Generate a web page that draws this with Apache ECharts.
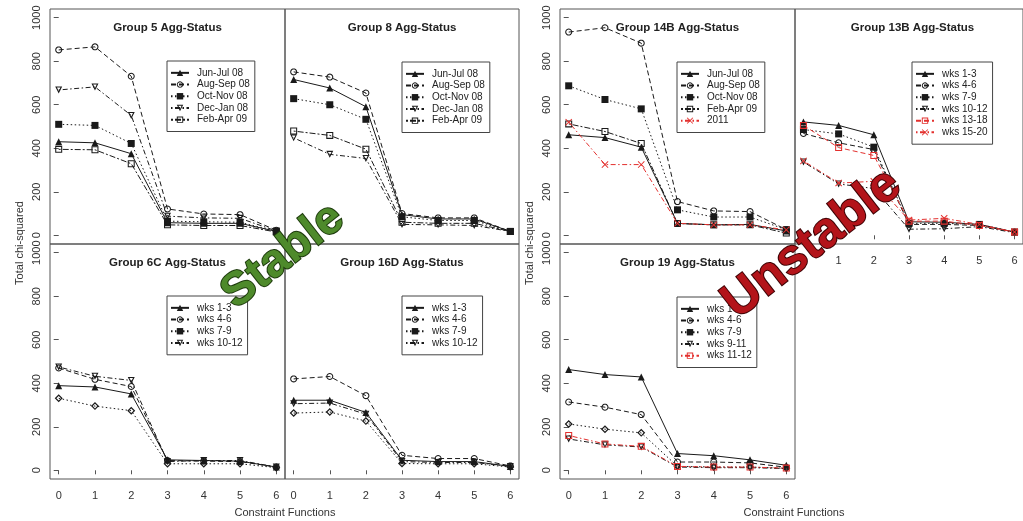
<!DOCTYPE html>
<html><head><meta charset="utf-8">
<script src="https://cdn.jsdelivr.net/npm/echarts@6/dist/echarts.min.js"></script>
<style>html,body{margin:0;padding:0;background:#fff}#c{width:1023px;height:521px}</style>
</head><body><div id="c"></div>
<script>
// ---------- data ----------
const constraintFns = [0, 1, 2, 3, 4, 5, 6];
const xTickLabels = [0, 1, 2, 3, 4, 5, 6];
const yTickLabels = [0, 200, 400, 600, 800, 1000];

// Group 5
const g5_junjul = [430, 425, 375, 58, 55, 55, 18];
const g5_augsep = [852, 866, 731, 121, 98, 95, 23];
const g5_octnov = [510, 505, 422, 65, 62, 60, 18];
const g5_decjan = [668, 682, 551, 88, 80, 78, 20];
const g5_febapr = [395, 393, 329, 48, 45, 45, 15];
// Group 8
const g8_junjul = [716, 677, 591, 95, 75, 75, 18];
const g8_augsep = [751, 727, 654, 100, 80, 80, 18];
const g8_octnov = [628, 600, 533, 85, 68, 68, 18];
const g8_decjan = [448, 372, 353, 50, 48, 45, 18];
const g8_febapr = [479, 459, 396, 60, 55, 55, 18];
// Group 6C
const g6_w13 = [389, 383, 351, 48, 45, 42, 15];
const g6_w46 = [470, 418, 385, 45, 42, 40, 15];
const g6_w79 = [331, 295, 274, 30, 30, 30, 12];
const g6_w1012 = [475, 432, 413, 40, 45, 45, 15];
// Group 16D
const g16_w13 = [322, 322, 266, 46, 40, 40, 18];
const g16_w46 = [420, 431, 343, 69, 54, 54, 20];
const g16_w79 = [263, 268, 226, 31, 30, 30, 15];
const g16_w1012 = [306, 309, 258, 40, 36, 36, 18];
// Group 14B
const g14_junjul = [462, 449, 405, 55, 48, 50, 20];
const g14_augsep = [934, 954, 883, 155, 112, 109, 26];
const g14_octnov = [687, 624, 581, 117, 84, 84, 26];
const g14_febapr = [512, 477, 422, 54, 48, 48, 10];
const g14_2011 = [520, 325, 325, 55, 48, 48, 25];
// Group 13B
const g13_w13 = [521, 505, 462, 62, 60, 50, 15];
const g13_w46 = [468, 425, 394, 50, 50, 45, 15];
const g13_w79 = [486, 466, 405, 55, 55, 50, 15];
const g13_w1012 = [337, 236, 215, 28, 30, 40, 12];
const g13_w1318 = [505, 403, 367, 65, 65, 45, 15];
const g13_w1520 = [342, 240, 248, 70, 78, 50, 15];
// Group 19
const g19_w13 = [463, 440, 429, 77, 67, 48, 23];
const g19_w46 = [314, 290, 256, 38, 38, 34, 14];
const g19_w79 = [213, 189, 172, 18, 15, 15, 9];
const g19_w911 = [144, 117, 107, 15, 12, 12, 8];
const g19_w1112 = [160, 121, 110, 18, 15, 15, 10];

// ---------- marker shapes (open rings drawn as paths with holes) ----------
function ring(outer, inner) {
  const p = pts => pts.map((q, j) => (j ? 'L' : 'M') + q[0].toFixed(2) + ',' + q[1].toFixed(2)).join('') + 'Z';
  return 'path://' + p(outer) + p(inner.slice().reverse());
}
function scaleAbout(pts, c, k) { return pts.map(q => [c[0] + (q[0] - c[0]) * k, c[1] + (q[1] - c[1]) * k]); }
const circPts = r => Array.from({ length: 20 }, (_, j) => [5 + r * Math.cos(j * Math.PI / 10), 5 + r * Math.sin(j * Math.PI / 10)]);
const SQ = [[0, 0], [10, 0], [10, 10], [0, 10]];
const TRI = [[5, 0], [10, 10], [0, 10]];
const DIA = [[5, 0], [10, 5], [5, 10], [0, 5]];
const OPEN_CIRCLE = ring(circPts(5), circPts(3.5));
const OPEN_SQUARE = ring(SQ, scaleAbout(SQ, [5, 5], 0.7));
const OPEN_TRI = ring(TRI, scaleAbout(TRI, [5, 6.91], 0.5));
const OPEN_DIAMOND = ring(DIA, scaleAbout(DIA, [5, 5], 0.57));
const X_PATH = 'path://M0,1L1,0L5,4L9,0L10,1L6,5L10,9L9,10L5,6L1,10L0,9L4,5Z';

// ---------- styles ----------
const FONT = '"Liberation Sans", Arial, sans-serif';
const BLK = '#1a1a1a', RED = '#e3302e';
const ST = {
  solid:   { dash: 'solid', symbol: 'triangle', color: BLK },
  dashed:  { dash: [5, 3], symbol: OPEN_CIRCLE, color: BLK },
  dotted:  { dash: [1.5, 2.5], symbol: 'rect', color: BLK },
  dottedD: { dash: [1.5, 2.5], symbol: OPEN_DIAMOND, color: BLK, size: 8 },
  dotdash: { dash: [1.5, 2.5, 5, 2.5], symbol: OPEN_TRI, rot: 180, color: BLK },
  twodash: { dash: [2, 2, 6, 2], symbol: OPEN_SQUARE, color: BLK },
  redX:    { dash: [1.5, 2.5, 5, 2.5], symbol: X_PATH, color: RED },
  redSqD:  { dash: [5, 3], symbol: OPEN_SQUARE, color: RED },
  redSqDD: { dash: [1.5, 2.5, 5, 2.5], symbol: OPEN_SQUARE, color: RED }
};

const panels = [
  { title: 'Group 5 Agg-Status', series: [
    ['Jun-Jul 08', g5_junjul, 'solid'], ['Aug-Sep 08', g5_augsep, 'dashed'], ['Oct-Nov 08', g5_octnov, 'dotted'],
    ['Dec-Jan 08', g5_decjan, 'dotdash'], ['Feb-Apr 09', g5_febapr, 'twodash']],
    legend: ['Jun-Jul 08', 'Aug-Sep 08', 'Oct-Nov 08', 'Dec-Jan 08', 'Feb-Apr 09'] },
  { title: 'Group 8 Agg-Status', series: [
    ['Jun-Jul 08', g8_junjul, 'solid'], ['Aug-Sep 08', g8_augsep, 'dashed'], ['Oct-Nov 08', g8_octnov, 'dotted'],
    ['Dec-Jan 08', g8_decjan, 'dotdash'], ['Feb-Apr 09', g8_febapr, 'twodash']],
    legend: ['Jun-Jul 08', 'Aug-Sep 08', 'Oct-Nov 08', 'Dec-Jan 08', 'Feb-Apr 09'] },
  { title: 'Group 6C Agg-Status', series: [
    ['wks 1-3', g6_w13, 'solid'], ['wks 4-6', g6_w46, 'dashed'], ['wks 7-9 (pts)', g6_w79, 'dottedD'],
    ['wks 10-12', g6_w1012, 'dotdash']],
    legend: ['wks 1-3', 'wks 4-6', 'wks 7-9', 'wks 10-12'] },
  { title: 'Group 16D Agg-Status', series: [
    ['wks 1-3', g16_w13, 'solid'], ['wks 4-6', g16_w46, 'dashed'], ['wks 7-9 (pts)', g16_w79, 'dottedD'],
    ['wks 10-12', g16_w1012, 'dotdash']],
    legend: ['wks 1-3', 'wks 4-6', 'wks 7-9', 'wks 10-12'] },
  { title: 'Group 14B Agg-Status', series: [
    ['Jun-Jul 08', g14_junjul, 'solid'], ['Aug-Sep 08', g14_augsep, 'dashed'], ['Oct-Nov 08', g14_octnov, 'dotted'],
    ['Feb-Apr 09', g14_febapr, 'twodash'], ['2011', g14_2011, 'redX']],
    legend: ['Jun-Jul 08', 'Aug-Sep 08', 'Oct-Nov 08', 'Feb-Apr 09', '2011'] },
  { title: 'Group 13B Agg-Status', series: [
    ['wks 1-3', g13_w13, 'solid'], ['wks 4-6', g13_w46, 'dashed'], ['wks 7-9', g13_w79, 'dotted'],
    ['wks 10-12', g13_w1012, 'dotdash'], ['wks 13-18', g13_w1318, 'redSqD'], ['wks 15-20', g13_w1520, 'redX']],
    legend: ['wks 1-3', 'wks 4-6', 'wks 7-9', 'wks 10-12', 'wks 13-18', 'wks 15-20'] },
  { title: 'Group 19 Agg-Status', series: [
    ['wks 1-3', g19_w13, 'solid'], ['wks 4-6', g19_w46, 'dashed'], ['wks 7-9 (pts)', g19_w79, 'dottedD'],
    ['wks 9-11', g19_w911, 'dotdash'], ['wks 11-12', g19_w1112, 'redSqDD']],
    legend: ['wks 1-3', 'wks 4-6', 'wks 7-9', 'wks 9-11', 'wks 11-12'] }
];

// layout
const gridBoxes = [
  { left: 50, top: 9, width: 235, height: 235 },
  { left: 285, top: 9, width: 234, height: 235 },
  { left: 50, top: 244, width: 235, height: 235 },
  { left: 285, top: 244, width: 234, height: 235 },
  { left: 560, top: 9, width: 235, height: 235 },
  { left: 795, top: 9, width: 235, height: 235 },
  { left: 560, top: 244, width: 235, height: 235 }
];
const showX = [false, false, true, true, false, true, true];
const showY = [true, false, true, false, true, false, true];
const legendPos = [[167, 61], [402, 62], [167, 296], [402, 296], [677, 62], [912, 62], [677, 297]];

const grid = [], xAxis = [], yAxis = [], series = [], title = [], legend = [];
panels.forEach((p, i) => {
  const g = gridBoxes[i];
  grid.push(Object.assign({ show: true, borderColor: '#555', borderWidth: 1, backgroundColor: 'transparent' }, g));
  xAxis.push({
    type: 'value', gridIndex: i, min: -0.24, max: 6.24,
    axisLine: { show: false }, splitLine: { show: false },
    axisTick: { show: showX[i], customValues: xTickLabels, length: 4, lineStyle: { color: '#555' } },
    axisLabel: { show: showX[i], customValues: xTickLabels, margin: 11, fontSize: 11, color: '#333', fontFamily: FONT,
      formatter: v => String(v) }
  });
  yAxis.push({
    type: 'value', gridIndex: i, min: -40, max: 1040,
    axisLine: { show: false }, splitLine: { show: false },
    axisTick: { show: showY[i], customValues: yTickLabels, length: 5, lineStyle: { color: '#555' } },
    axisLabel: { show: showY[i], customValues: yTickLabels, rotate: 90, margin: 8, fontSize: 11, color: '#333', fontFamily: FONT,
      formatter: v => String(v) }
  });
  title.push({
    text: p.title, left: g.left + g.width / 2, top: i === 2 || i === 3 || i === 6 ? 257 : 22,
    textAlign: 'center', padding: 0,
    textStyle: { fontSize: 11.5, fontWeight: 'bold', color: '#222', fontFamily: FONT }
  });
  legend.push({
    left: legendPos[i][0], top: legendPos[i][1], orient: 'vertical', data: p.legend,
    itemWidth: 18, itemHeight: 8, itemGap: 0, padding: [6, 5, 6, 3],
    borderColor: '#444', borderWidth: 1, backgroundColor: '#fff', selectedMode: false,
    textStyle: { fontSize: 10, lineHeight: 11.7, color: '#222', fontFamily: FONT, padding: [0, 0, 0, 3] }
  });
  p.series.forEach(([name, vals, sk]) => {
    const s = ST[sk];
    series.push({
      type: 'line', name, xAxisIndex: i, yAxisIndex: i,
      data: constraintFns.map((x, k) => [x, vals[k]]),
      symbol: s.symbol, symbolSize: s.size || 7, symbolRotate: s.rot || 0,
      lineStyle: { color: s.color, width: 1, type: s.dash },
      itemStyle: { color: s.color, borderWidth: 0 },
      z: 3
    });
  });
});
// legend-only entry (filled squares with dotted line) for "wks 7-9", placed first
series.unshift({
  type: 'line', name: 'wks 7-9', xAxisIndex: 2, yAxisIndex: 2, data: [],
  symbol: 'rect', lineStyle: { color: BLK, width: 1, type: [1.5, 2.5] },
  itemStyle: { color: BLK, borderWidth: 0 }
});

const txt = (x, y, text, rot) => ({ type: 'text', x, y, rotation: rot || 0,
  style: { text, font: '11px ' + FONT, fill: '#333', align: 'center', verticalAlign: 'middle', textAlign: 'center', textVerticalAlign: 'middle' } });
const graphic = [
  txt(20, 243, 'Total chi-squared', Math.PI / 2),
  txt(530, 243, 'Total chi-squared', Math.PI / 2),
  txt(285, 513, 'Constraint Functions'),
  txt(794, 513, 'Constraint Functions'),
  { type: 'text', x: 283, y: 256, rotation: 38 * Math.PI / 180, z: 100,
    style: { text: 'Stable', font: 'bold 47px ' + FONT, fill: '#4e8a2b', stroke: '#1d3a0c', lineWidth: 2,
      align: 'center', verticalAlign: 'middle', textAlign: 'center', textVerticalAlign: 'middle',
      shadowBlur: 3, shadowColor: 'rgba(0,0,0,0.45)', shadowOffsetX: 2, shadowOffsetY: 2 } },
  { type: 'text', x: 812, y: 244, rotation: 38 * Math.PI / 180, z: 100,
    style: { text: 'Unstable', font: 'bold 50px ' + FONT, fill: '#b3141a', stroke: '#3d0204', lineWidth: 2,
      align: 'center', verticalAlign: 'middle', textAlign: 'center', textVerticalAlign: 'middle',
      shadowBlur: 3, shadowColor: 'rgba(0,0,0,0.45)', shadowOffsetX: 2, shadowOffsetY: 2 } }
];

const chart = echarts.init(document.getElementById('c'), null, { renderer: 'canvas' });
chart.setOption({
  animation: false, backgroundColor: '#fff',
  grid, xAxis, yAxis, series, title, legend, graphic
});
</script></body></html>
